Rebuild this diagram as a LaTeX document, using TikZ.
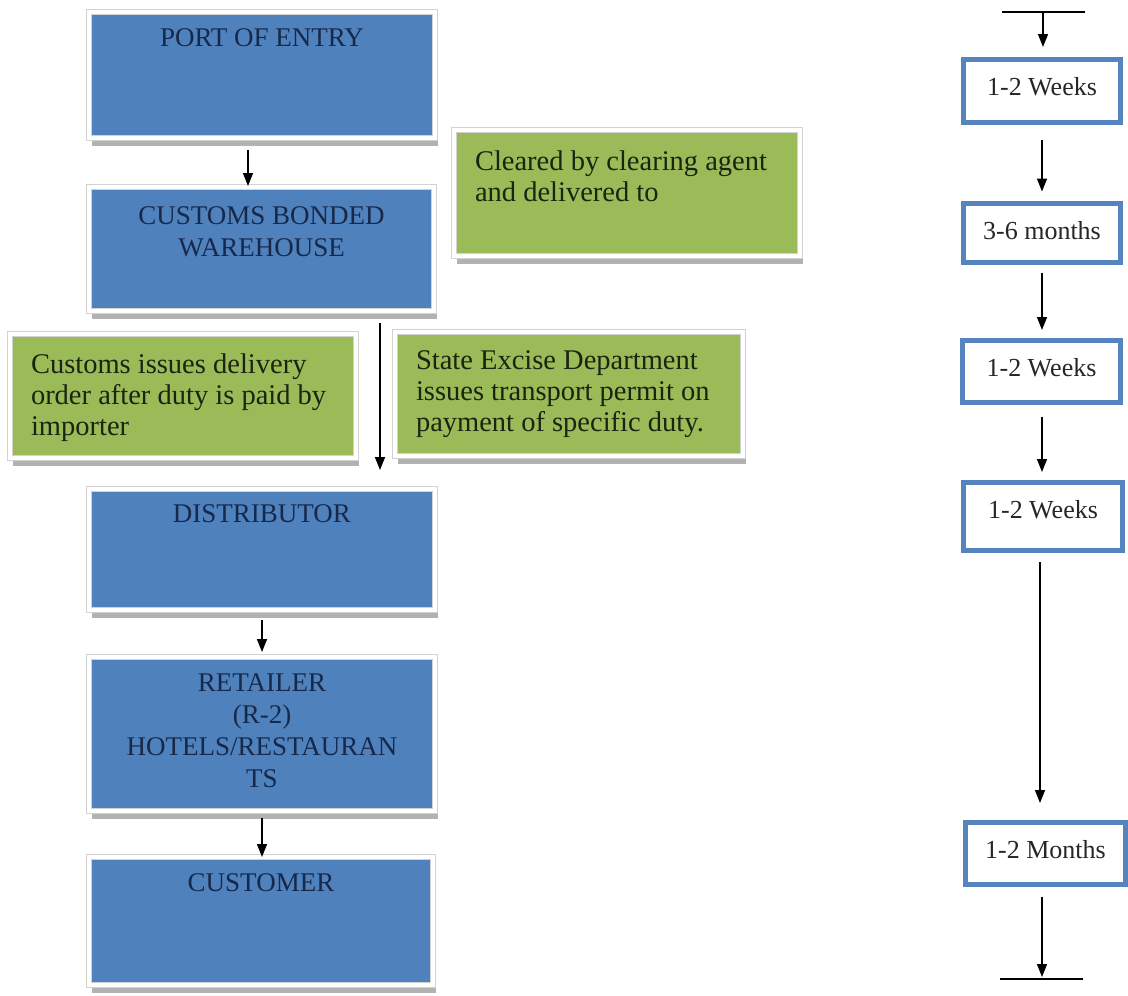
\documentclass[tikz,border=0pt]{standalone}
\usepackage{fontspec}
\setmainfont{Liberation Serif}
\usetikzlibrary{arrows.meta,shadows,calc}
\definecolor{boxblue}{HTML}{4F81BD}
\definecolor{boxgreen}{HTML}{9BBB59}
\definecolor{navytext}{HTML}{17294A}
\definecolor{greentext}{HTML}{1A2410}
\definecolor{rborder}{HTML}{5584BE}
\newcommand{\tbox}[4]{\begin{minipage}[c][#2][t]{#1}\vspace*{#3}#4\end{minipage}}
\begin{document}
\begin{tikzpicture}[x=1pt,y=-1pt,
  framed/.style={draw=gray!35, double=white, line width=0.8pt, double distance=4.4pt,
    inner sep=0pt, outer sep=0pt,
    drop shadow={shadow xshift=3pt, shadow yshift=-8pt, fill=gray!60, opacity=1}},
  bluebox/.style={framed, fill=boxblue, text=navytext, font=\fontsize{27}{32}\selectfont},
  greenbox/.style={framed, fill=boxgreen, text=greentext, font=\fontsize{28.5}{31}\selectfont, inner xsep=21pt},
  timebox/.style={draw=rborder, line width=5pt, fill=white, inner sep=0pt, outer sep=0pt,
    text=black!85, font=\fontsize{26}{30}\selectfont},
  arr/.style={line width=1.5pt, -{Triangle[length=13pt,width=10pt]}},
  bar/.style={line width=1.6pt}]
\fill[white] (0,0) rectangle (1128,996);
\useasboundingbox (0,0) rectangle (1128,996);

% main flow
\node[bluebox] (p1) at (262,75) {\tbox{346pt}{126pt}{17pt}{\centering PORT OF ENTRY}};
\node[bluebox] (p2) at (261.5,249) {\tbox{345pt}{124pt}{20pt}{\centering CUSTOMS BONDED\\WAREHOUSE}};
\node[bluebox] (p3) at (262,549.5) {\tbox{346pt}{121pt}{16pt}{\centering DISTRIBUTOR}};
\node[bluebox] (p4) at (262,734) {\tbox{346pt}{154pt}{17pt}{\centering RETAILER\\(R-2)\\HOTELS/RESTAURAN\\TS}};
\node[bluebox] (p5) at (261,921) {\tbox{344pt}{128pt}{17pt}{\centering CUSTOMER}};

% notes
\node[greenbox] (g1) at (627,193) {\tbox{304pt}{126pt}{21pt}{\raggedright Cleared by clearing agent\\and delivered to}};
\node[greenbox] (g2) at (183,396) {\tbox{304pt}{124pt}{20pt}{\raggedright Customs issues delivery\\order after duty is paid by\\importer}};
\node[greenbox] (g3) at (569,394) {\tbox{306pt}{124pt}{19pt}{\raggedright State Excise Department\\issues transport permit on\\payment of specific duty.}};

% time line
\node[timebox] (b1) at (1042,91) {\tbox{157pt}{63pt}{18pt}{\centering 1-2 Weeks}};
\node[timebox] (b2) at (1042,233) {\tbox{157pt}{59pt}{18pt}{\centering 3-6 months}};
\node[timebox] (b3) at (1041.5,371.5) {\tbox{158pt}{62pt}{18pt}{\centering 1-2 Weeks}};
\node[timebox] (b4) at (1043,516.5) {\tbox{159pt}{68pt}{18pt}{\centering 1-2 Weeks}};
\node[timebox] (b5) at (1045.5,853.5) {\tbox{160pt}{62pt}{18pt}{\centering 1-2 Months}};

% connectors main flow
\coordinate (ax1) at (248,0);
\coordinate (ax2) at (380,0);
\coordinate (ax3) at (262,0);
\draw[arr, shorten <=12pt, shorten >=1pt] (p1.south -| ax1) -- (p2.north -| ax1);
\draw[arr, shorten <=12pt, shorten >=19pt] (p2.south -| ax2) -- (p3.north -| ax2);
\draw[arr, shorten <=10pt, shorten >=5pt] (p3.south -| ax3) -- (p4.north -| ax3);
\draw[arr, shorten <=7pt, shorten >=0pt] (p4.south -| ax3) -- (p5.north -| ax3);

% connectors time line
\coordinate (tl) at (1002,12);
\coordinate (tr) at (1085,12);
\coordinate (tm) at (1043,12);
\coordinate (rx) at (1042,0);
\coordinate (rx2) at (1040,0);
\coordinate (bl) at (1000,979);
\coordinate (br) at (1083,979);
\coordinate (bm) at (1042,979);
\draw[bar] (tl) -- (tr);
\draw[arr, shorten >=12.5pt] (tm) -- (b1.north -| tm);
\draw[arr, shorten <=17.5pt, shorten >=12pt] (b1.south -| rx) -- (b2.north -| rx);
\draw[arr, shorten <=10.5pt, shorten >=10.5pt] (b2.south -| rx) -- (b3.north -| rx);
\draw[arr, shorten <=14.5pt, shorten >=10.5pt] (b3.south -| rx) -- (b4.north -| rx);
\draw[arr, shorten <=11.5pt, shorten >=19.5pt] (b4.south -| rx2) -- (b5.north -| rx2);
\draw[arr, shorten <=12.5pt, shorten >=2pt] (b5.south -| bm) -- (bm);
\draw[bar] (bl) -- (br);
\end{tikzpicture}
\end{document}
